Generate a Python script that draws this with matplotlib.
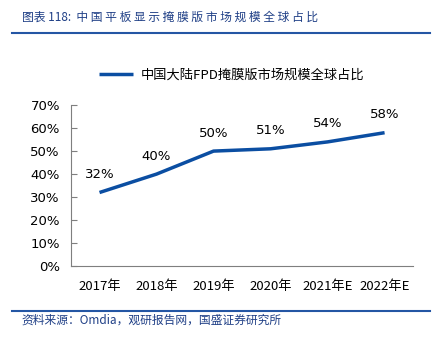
import matplotlib
matplotlib.use("Agg")
import matplotlib.pyplot as plt
from matplotlib.lines import Line2D

plt.rcParams["font.family"] = ["Noto Sans CJK SC", "DejaVu Sans"]
plt.rcParams["axes.unicode_minus"] = False

years = ["2017年", "2018年", "2019年", "2020年", "2021年E", "2022年E"]
share = [32, 40, 50, 51, 54, 58]
yticks = [0, 10, 20, 30, 40, 50, 60, 70]

line_color = "#0b4ea2"
title_color = "#1f3f86"

fig = plt.figure(figsize=(4.33, 3.39), dpi=100)
ax = fig.add_axes([0.164, 0.215, 0.79, 0.475])

x = list(range(len(years)))
ax.plot(x, share, color=line_color, linewidth=2.5, solid_capstyle="butt",
        label="中国大陆FPD掩膜版市场规模全球占比")
for xi, v in zip(x, share):
    ax.text(xi, v + 5, f"{v}%", ha="center", va="bottom", fontsize=9.5,
            family=["DejaVu Sans"])

ax.set_xlim(-0.5, len(years) - 0.5)
ax.set_ylim(0, 70)
ax.set_yticks(yticks)
ax.set_yticklabels([f"{t}%" for t in yticks], family=["DejaVu Sans"])
ax.set_xticks(x)
ax.set_xticklabels(years)
ax.tick_params(axis="y", direction="in", length=4, labelsize=9.5, pad=8,
               color="#7f7f7f")
ax.tick_params(axis="x", length=0, labelsize=9.5, pad=10)
for side in ["top", "right"]:
    ax.spines[side].set_visible(False)
for side in ["left", "bottom"]:
    ax.spines[side].set_color("#7f7f7f")
    ax.spines[side].set_linewidth(0.8)

ax.legend(loc="lower center", bbox_to_anchor=(0.47, 1.07), frameon=False,
          fontsize=9.5, handlelength=2.6, handletextpad=0.6)

# header and footer
fig.text(0.05, 0.95, "图表 118:  中 国 平 板 显 示 掩 膜 版 市 场 规 模 全 球 占 比",
         color=title_color, fontsize=8.5, ha="left", va="center")
fig.add_artist(Line2D([0.028, 0.993], [0.902, 0.902], color="#2456a4",
                      linewidth=1.5))
fig.add_artist(Line2D([0.028, 0.993], [0.083, 0.083], color="#2456a4",
                      linewidth=1.5))
fig.text(0.05, 0.057, "资料来源：Omdia，观研报告网，国盛证券研究所", color=title_color,
         fontsize=8.5, ha="left", va="center")

fig.savefig("out.png", dpi=100)
